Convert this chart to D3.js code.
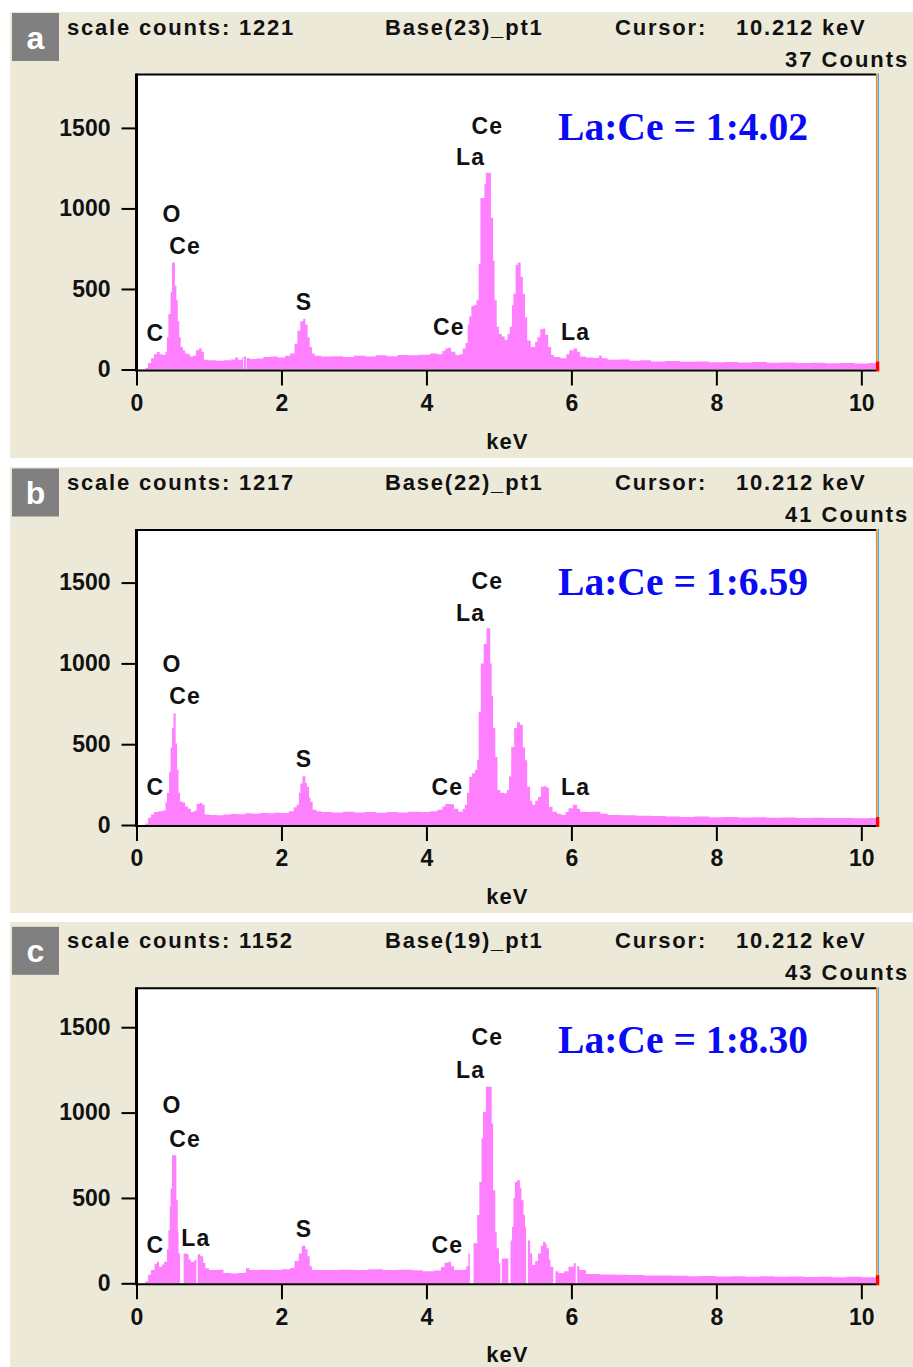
<!DOCTYPE html>
<html><head><meta charset="utf-8">
<script src="https://cdn.jsdelivr.net/npm/d3@7"></script>
<style>body{margin:0;background:#fff} svg{display:block}</style>
</head><body>
<svg id="chart" width="913" height="1367"></svg>
<script>
// ---------- data ----------
const panelLetters = ["a", "b", "c"];
const scaleCounts = [1221, 1217, 1152];
const baseNames = ["Base(23)_pt1", "Base(22)_pt1", "Base(19)_pt1"];
const cursorKeV = "10.212 keV";
const cursorCounts = [37, 41, 43];
const ratios = ["La:Ce = 1:4.02", "La:Ce = 1:6.59", "La:Ce = 1:8.30"];
const xTicks = [0, 2, 4, 6, 8, 10];
const yTicks = [0, 500, 1000, 1500];

// spectra: [keV (channel start), counts]
const spectrumA = [[0,0],[0.12,10],[0.16,40],[0.20,70],[0.24,95],[0.28,108],[0.32,95],[0.36,90],[0.40,110],[0.42,200],[0.44,345],[0.47,480],[0.49,665],[0.53,520],[0.55,430],[0.57,300],[0.59,200],[0.61,140],[0.64,120],[0.67,100],[0.70,95],[0.74,80],[0.78,85],[0.82,120],[0.86,130],[0.90,110],[0.93,60],[1.00,57],[1.10,55],[1.20,58],[1.30,62],[1.36,75],[1.40,60],[1.46,78],[1.47,5],[1.48,80],[1.51,5],[1.52,72],[1.56,65],[1.65,68],[1.75,78],[1.85,80],[1.95,75],[2.05,85],[2.12,100],[2.18,160],[2.22,240],[2.26,300],[2.30,315],[2.33,280],[2.36,200],[2.39,140],[2.42,100],[2.46,85],[2.55,80],[2.70,82],[2.85,78],[3.00,85],[3.15,80],[3.30,88],[3.45,82],[3.60,90],[3.75,88],[3.90,92],[4.05,100],[4.15,95],[4.22,115],[4.26,130],[4.30,135],[4.34,110],[4.40,90],[4.46,95],[4.50,130],[4.54,165],[4.57,280],[4.59,330],[4.62,395],[4.66,400],[4.69,430],[4.72,655],[4.745,1065],[4.80,1150],[4.82,1221],[4.89,942],[4.92,675],[4.94,430],[4.97,265],[5.00,220],[5.04,205],[5.08,185],[5.12,220],[5.15,265],[5.18,400],[5.20,470],[5.23,650],[5.26,665],[5.30,575],[5.33,470],[5.36,325],[5.39,180],[5.44,140],[5.50,170],[5.53,200],[5.57,250],[5.61,255],[5.64,215],[5.68,140],[5.72,90],[5.76,78],[5.85,70],[5.93,95],[5.97,120],[6.03,130],[6.08,110],[6.12,80],[6.20,75],[6.30,72],[6.38,85],[6.42,70],[6.50,60],[6.65,62],[6.80,55],[6.95,58],[7.10,50],[7.30,52],[7.50,48],[7.70,50],[7.90,45],[8.10,47],[8.30,44],[8.50,46],[8.70,42],[8.90,44],[9.10,40],[9.30,42],[9.50,39],[9.70,41],[9.90,38],[10.10,40],[10.23,40]];

const spectrumB = [[0,0],[0.12,10],[0.16,45],[0.20,65],[0.24,80],[0.30,85],[0.36,90],[0.40,140],[0.42,200],[0.45,330],[0.47,480],[0.49,600],[0.51,690],[0.54,505],[0.56,340],[0.58,200],[0.60,145],[0.64,140],[0.67,115],[0.71,100],[0.75,82],[0.80,90],[0.83,130],[0.87,136],[0.91,125],[0.94,65],[1.00,62],[1.10,60],[1.20,65],[1.30,68],[1.40,66],[1.50,72],[1.60,70],[1.70,74],[1.80,72],[1.90,76],[2.00,74],[2.10,85],[2.17,110],[2.21,125],[2.24,200],[2.26,257],[2.29,302],[2.33,260],[2.35,237],[2.38,170],[2.40,144],[2.43,95],[2.48,85],[2.55,80],[2.70,78],[2.85,82],[3.00,78],[3.15,80],[3.30,76],[3.45,80],[3.60,78],[3.75,82],[3.90,80],[4.05,85],[4.15,95],[4.22,115],[4.26,130],[4.32,128],[4.38,100],[4.44,82],[4.50,100],[4.53,125],[4.56,200],[4.59,298],[4.63,320],[4.67,340],[4.70,400],[4.72,700],[4.75,1000],[4.79,1120],[4.83,1217],[4.88,1000],[4.90,800],[4.92,600],[4.95,421],[4.98,216],[5.02,200],[5.07,197],[5.11,216],[5.14,300],[5.17,483],[5.21,600],[5.25,636],[5.29,620],[5.33,480],[5.36,401],[5.39,237],[5.43,150],[5.46,125],[5.50,150],[5.54,175],[5.58,237],[5.62,240],[5.66,230],[5.69,113],[5.74,82],[5.80,70],[5.86,62],[5.92,80],[5.96,103],[6.02,125],[6.08,100],[6.12,82],[6.20,80],[6.30,82],[6.40,70],[6.50,62],[6.70,60],[6.90,58],[7.10,55],[7.30,52],[7.50,50],[7.70,52],[7.90,48],[8.10,50],[8.30,46],[8.50,48],[8.70,45],[8.90,46],[9.10,44],[9.30,45],[9.50,43],[9.70,44],[9.90,42],[10.10,43],[10.23,43]];

const spectrumC = [[0,0],[0.12,10],[0.16,50],[0.20,78],[0.25,115],[0.28,126],[0.31,97],[0.35,110],[0.38,126],[0.42,200],[0.44,311],[0.46,450],[0.47,555],[0.49,750],[0.55,487],[0.57,300],[0.58,175],[0.60,0],[0.65,175],[0.69,170],[0.72,140],[0.75,126],[0.80,136],[0.825,0],[0.845,170],[0.88,158],[0.92,120],[0.95,88],[1.00,78],[1.15,80],[1.20,60],[1.30,58],[1.40,60],[1.47,62],[1.51,88],[1.56,78],[1.70,80],[1.85,78],[2.00,82],[2.12,90],[2.18,130],[2.24,175],[2.28,220],[2.33,200],[2.36,158],[2.39,100],[2.42,78],[2.60,78],[2.80,80],[3.00,78],[3.20,82],[3.40,78],[3.60,80],[3.80,76],[3.95,70],[4.10,75],[4.20,95],[4.25,120],[4.30,126],[4.34,100],[4.38,78],[4.50,80],[4.55,100],[4.58,175],[4.60,0],[4.65,234],[4.70,400],[4.73,594],[4.76,850],[4.78,1003],[4.82,1152],[4.90,936],[4.92,545],[4.95,300],[4.97,205],[5.00,117],[5.02,0],[5.04,146],[5.11,146],[5.13,0],[5.16,250],[5.18,331],[5.20,500],[5.22,594],[5.25,604],[5.29,560],[5.31,487],[5.34,400],[5.36,331],[5.375,0],[5.40,250],[5.43,175],[5.46,107],[5.50,130],[5.54,175],[5.58,220],[5.61,243],[5.64,230],[5.66,205],[5.69,140],[5.71,97],[5.75,0],[5.78,70],[5.82,60],[5.90,70],[5.96,97],[6.03,117],[6.06,0],[6.08,100],[6.11,78],[6.20,55],[6.40,52],[6.60,50],[6.80,48],[7.00,46],[7.20,45],[7.40,44],[7.60,42],[7.80,43],[8.00,40],[8.20,42],[8.40,39],[8.60,41],[8.80,38],[9.00,40],[9.20,37],[9.40,39],[9.60,36],[9.80,38],[10.00,36],[10.20,37],[10.23,37]];

// peak labels: [text, keV, counts level of text baseline]
const peakLabelsA = [["O",0.49,915],["Ce",0.67,718],["C",0.26,175],["S",2.31,372],["Ce",4.31,212],["Ce",4.84,1465],["La",4.61,1267],["La",6.06,181]];
const peakLabelsB = [["O",0.49,944],["Ce",0.67,747],["C",0.26,185],["S",2.31,358],["Ce",4.29,185],["Ce",4.84,1463],["La",4.61,1265],["La",6.06,185]];
const peakLabelsC = [["O",0.49,996],["Ce",0.67,797],["C",0.26,177],["La",0.82,218],["S",2.31,271],["Ce",4.29,177],["Ce",4.84,1394],["La",4.61,1201]];

const spectra = [spectrumA, spectrumB, spectrumC];
const peakLabels = [peakLabelsA, peakLabelsB, peakLabelsC];

// ---------- layout ----------
const plotLeft = 136.5, plotRight = 878, plotH = 295;
const plotTops = [74.5, 530, 988.3];
const bgTops = [12, 467, 922];
const xMax = 10.23;
const SANS = "'Liberation Sans', Arial, sans-serif";
const SERIF = "'Liberation Serif', 'Times New Roman', serif";

const svg = d3.select("#chart");
svg.append("rect").attr("width", 913).attr("height", 1367).attr("fill", "#fff");

spectra.forEach((spec, i) => {
  const top = plotTops[i], bottom = top + plotH;
  const g = svg.append("g");
  const x = d3.scaleLinear().domain([0, xMax]).range([plotLeft, plotRight]);
  const y = d3.scaleLinear().domain([0, scaleCounts[i] * 1.5]).range([bottom, top]);

  // panel background
  g.append("rect").attr("x", 10).attr("y", bgTops[i]).attr("width", 903)
    .attr("height", 446).attr("fill", "#ECE9D8");

  // header
  const hdr = g.append("g").attr("font-family", SANS).attr("font-weight", "bold")
    .attr("font-size", 22).attr("letter-spacing", "1.8px").attr("fill", "#111");
  hdr.append("text").attr("x", 67).attr("y", top - 40).text("scale counts: " + scaleCounts[i]);
  hdr.append("text").attr("x", 385).attr("y", top - 40).text(baseNames[i]);
  hdr.append("text").attr("x", 615).attr("y", top - 40).text("Cursor:");
  hdr.append("text").attr("x", 736).attr("y", top - 40).text(cursorKeV);
  hdr.append("text").attr("x", 785).attr("y", top - 8).attr("letter-spacing", "2px")
    .text(cursorCounts[i] + " Counts");

  // panel letter box
  g.append("rect").attr("x", 12).attr("y", top - 61.5).attr("width", 47).attr("height", 48)
    .attr("fill", "#808080");
  g.append("text").attr("x", 35.5).attr("y", top - 26).attr("text-anchor", "middle")
    .attr("font-family", SANS).attr("font-weight", "bold").attr("font-size", 32)
    .attr("fill", "#fff").text(panelLetters[i]);

  // plot area
  g.append("rect").attr("x", plotLeft).attr("y", top).attr("width", plotRight - plotLeft)
    .attr("height", plotH).attr("fill", "#fff");

  const clipId = "clip" + i;
  svg.append("clipPath").attr("id", clipId).append("rect")
    .attr("x", plotLeft).attr("y", top).attr("width", plotRight - plotLeft).attr("height", plotH);

  const area = d3.area().curve(d3.curveStepAfter)
    .x(d => x(d[0])).y0(y(0)).y1(d => y(d[1]));
  g.append("path").datum(spec).attr("d", area).attr("fill", "#FF80FF")
    .attr("clip-path", `url(#${clipId})`);

  // frame
  g.append("line").attr("x1", plotLeft).attr("x2", 876).attr("y1", top).attr("y2", top)
    .attr("stroke", "#000").attr("stroke-width", 2);
  g.append("line").attr("x1", 876.6).attr("x2", 876.6).attr("y1", top - 1).attr("y2", bottom)
    .attr("stroke", "#FF8A00").attr("stroke-width", 1.4);
  g.append("line").attr("x1", 878.3).attr("x2", 878.3).attr("y1", top - 1).attr("y2", bottom)
    .attr("stroke", "#4AA0F0").attr("stroke-width", 1.4);
  g.append("rect").attr("x", 876).attr("y", bottom - 8).attr("width", 3.3).attr("height", 10)
    .attr("fill", "#FF0000");

  // y axis
  const ya = g.append("g").attr("transform", `translate(${plotLeft},0)`)
    .call(d3.axisLeft(y).tickValues(yTicks).tickSize(15).tickPadding(11).tickFormat(d3.format("d")));
  ya.select(".domain").remove();
  ya.selectAll(".tick line").attr("stroke", "#000").attr("stroke-width", 2);
  ya.selectAll(".tick text").attr("font-family", SANS).attr("font-weight", "bold")
    .attr("font-size", 23).attr("fill", "#111");

  // x axis
  const xa = g.append("g").attr("transform", `translate(0,${bottom + 1})`)
    .call(d3.axisBottom(x).tickValues(xTicks).tickSize(15).tickPadding(9).tickFormat(d => d));
  xa.select(".domain").remove();
  xa.selectAll(".tick line").attr("stroke", "#000").attr("stroke-width", 2);
  xa.selectAll(".tick text").attr("font-family", SANS).attr("font-weight", "bold")
    .attr("font-size", 23).attr("fill", "#111");

  g.append("line").attr("x1", plotLeft).attr("x2", 876).attr("y1", bottom + 1).attr("y2", bottom + 1)
    .attr("stroke", "#000").attr("stroke-width", 2);
  g.append("line").attr("x1", plotLeft).attr("x2", plotLeft).attr("y1", top - 1).attr("y2", bottom + 2)
    .attr("stroke", "#000").attr("stroke-width", 3);

  // x axis title
  g.append("text").attr("x", (plotLeft + plotRight) / 2).attr("y", bottom + 79)
    .attr("text-anchor", "middle").attr("font-family", SANS).attr("font-weight", "bold")
    .attr("font-size", 22).attr("letter-spacing", "1px").attr("fill", "#111").text("keV");

  // peak labels
  g.append("g").selectAll("text").data(peakLabels[i]).join("text")
    .attr("x", d => x(d[1])).attr("y", d => y(d[2])).attr("text-anchor", "middle")
    .attr("font-family", SANS).attr("font-weight", "bold").attr("font-size", 23)
    .attr("letter-spacing", "1.2px").attr("fill", "#111").text(d => d[0]);

  // ratio annotation
  g.append("text").attr("x", 558).attr("y", top + 65)
    .attr("font-family", SERIF).attr("font-weight", "bold").attr("font-size", 39.6)
    .attr("fill", "#0A0AF5").text(ratios[i]);
});
</script>
</body></html>
